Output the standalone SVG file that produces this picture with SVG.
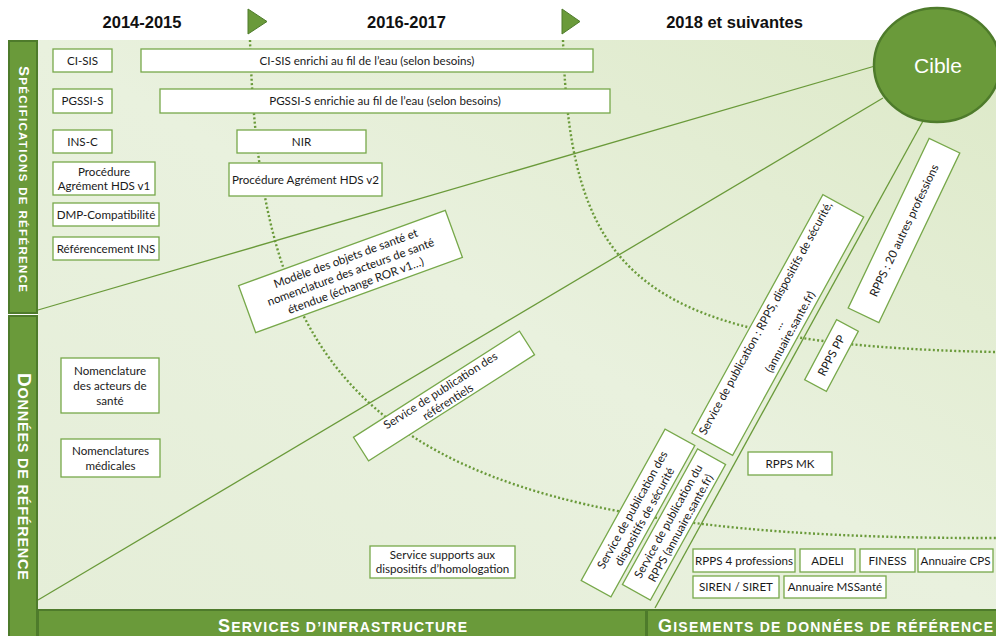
<svg xmlns="http://www.w3.org/2000/svg" width="996" height="636" viewBox="0 0 996 636">
<defs>
<linearGradient id="bg" x1="1" y1="0" x2="0" y2="1">
<stop offset="0" stop-color="#dde9c8"/>
<stop offset="0.5" stop-color="#e9f1de"/>
<stop offset="1" stop-color="#e5eed8"/>
</linearGradient>
<style>
.box{fill:#ffffff;stroke:#77a84a;stroke-width:1.3}
.t{font-family:Lato,"Liberation Sans",sans-serif;font-size:11.6px;fill:#1a1a1a;text-anchor:middle}
.hdr{font-family:"Liberation Sans",Arial,sans-serif;font-size:16.5px;font-weight:bold;fill:#111;text-anchor:middle}
.bar{fill:#6a9a3a;stroke:#4e7b2b;stroke-width:2}
.lbl{font-family:"Liberation Sans",Arial,sans-serif;font-weight:bold;fill:#ffffff;text-anchor:middle}
.ray{fill:none;stroke:#6a9a3a;stroke-width:1.3}
.dot{fill:none;stroke:#6a9a3a;stroke-width:2.4;stroke-dasharray:2 2.3}
.tri{fill:#6a9a3a;stroke:#4e7b2b;stroke-width:1}
</style>
</defs>
<rect x="0" y="0" width="996" height="636" fill="#ffffff"/>
<rect x="38" y="40" width="958" height="570" fill="url(#bg)"/>

<g id="header">
<text class="hdr" x="142" y="28">2014-2015</text>
<text class="hdr" x="406.5" y="28">2016-2017</text>
<text class="hdr" x="734.5" y="28">2018 et suivantes</text>
<polygon class="tri" points="248,9 267,21.5 248,34"/>
<polygon class="tri" points="562,9 580,21.5 562,34"/>
</g>

<g id="connectors">
<path class="dot" d="M250,40 C260,400 380,540 996,538"/>
<path class="dot" d="M563,40 C570,280 640,345 996,352"/>
<line class="ray" x1="38" y1="310" x2="875" y2="66"/>
<line class="ray" x1="38" y1="600" x2="883" y2="98"/>
<line class="ray" x1="923" y1="121" x2="655" y2="608"/>
</g>

<g id="section-specifications">
<rect class="bar" x="9" y="41" width="28" height="272"/>
<text class="lbl" transform="translate(23,179) rotate(90)" x="0" y="4.5" textLength="226" lengthAdjust="spacing"><tspan font-size="15">S</tspan><tspan font-size="11.5">PÉCIFICATIONS DE RÉFÉRENCE</tspan></text>
</g>
<g id="section-donnees">
<rect class="bar" x="9" y="316" width="28" height="321"/>
<text class="lbl" transform="translate(23,476.5) rotate(90)" x="0" y="5.5" textLength="207" lengthAdjust="spacing"><tspan font-size="19">D</tspan><tspan font-size="14.5">ONNÉES DE RÉFÉRENCE</tspan></text>
</g>
<g id="section-services">
<rect class="bar" x="38" y="610" width="608" height="27"/>
<text class="lbl" x="342.5" y="631.5" textLength="249" lengthAdjust="spacing"><tspan font-size="18">S</tspan><tspan font-size="14">ERVICES D’INFRASTRUCTURE</tspan></text>
</g>
<g id="section-gisements">
<rect class="bar" x="647" y="610" width="350" height="27"/>
<text class="lbl" x="825.5" y="631.5" textLength="335" lengthAdjust="spacing"><tspan font-size="18">G</tspan><tspan font-size="14">ISEMENTS DE DONNÉES DE RÉFÉRENCE</tspan></text>
</g>

<g id="n-cisis"><rect class="box" x="53" y="49" width="59" height="23"/><text class="t" x="82.5" y="64.5">CI-SIS</text></g>
<g id="n-cisis-enrichi"><rect class="box" x="141" y="49" width="452" height="23"/><text class="t" x="367" y="64.5">CI-SIS enrichi au fil de l’eau (selon besoins)</text></g>
<g id="n-pgssi"><rect class="box" x="53" y="89" width="59" height="24"/><text class="t" x="82.5" y="105">PGSSI-S</text></g>
<g id="n-pgssi-enrichie"><rect class="box" x="160" y="89" width="450" height="24"/><text class="t" x="385" y="105">PGSSI-S enrichie au fil de l’eau (selon besoins)</text></g>
<g id="n-insc"><rect class="box" x="53" y="130" width="59" height="23"/><text class="t" x="82.5" y="145.5">INS-C</text></g>
<g id="n-nir"><rect class="box" x="237" y="130" width="129" height="23"/><text class="t" x="301.5" y="145.5">NIR</text></g>
<g id="n-hds1"><rect class="box" x="53" y="162" width="102" height="33"/><text class="t" x="104" y="175.5">Procédure</text><text class="t" x="104" y="189.5">Agrément HDS v1</text></g>
<g id="n-hds2"><rect class="box" x="229" y="163" width="153" height="33"/><text class="t" x="305.5" y="183.5">Procédure Agrément HDS v2</text></g>
<g id="n-dmp"><rect class="box" x="53" y="203" width="106" height="23"/><text class="t" x="106" y="218.5">DMP-Compatibilité</text></g>
<g id="n-refins"><rect class="box" x="53" y="237" width="106" height="23"/><text class="t" x="106" y="252.5">Référencement INS</text></g>

<g id="n-modele" transform="translate(350.5,271.5) rotate(-20)">
<rect class="box" x="-110" y="-25" width="220" height="50"/>
<text class="t" x="0" y="-10">Modèle des objets de santé et</text>
<text class="t" x="0" y="4.5">nomenclature des acteurs de santé</text>
<text class="t" x="0" y="19">étendue (échange ROR v1…)</text>
</g>

<g id="n-nomenclature-acteurs"><rect class="box" x="61" y="358" width="98" height="55"/><text class="t" x="110" y="375">Nomenclature</text><text class="t" x="110" y="390">des acteurs de</text><text class="t" x="110" y="404.5">santé</text></g>
<g id="n-nomenclatures-medicales"><rect class="box" x="61" y="439" width="99" height="38"/><text class="t" x="110.5" y="455">Nomenclatures</text><text class="t" x="110.5" y="469.5">médicales</text></g>

<g id="n-pub-referentiels" transform="translate(444,396) rotate(-32.6)">
<rect class="box" x="-98.5" y="-14" width="197" height="28"/>
<text class="t" x="0" y="-2.5">Service de publication des</text>
<text class="t" x="0" y="11">référentiels</text>
</g>

<g id="n-supports"><rect class="box" x="370" y="546" width="145" height="32"/><text class="t" x="442.5" y="559">Service supports aux</text><text class="t" x="442.5" y="573">dispositifs d’homologation</text></g>

<g id="n-pub-rpps" transform="translate(777.75,325) rotate(-61.2)">
<rect class="box" x="-136" y="-23.25" width="272" height="46.5"/>
<text class="t" x="0" y="-10" textLength="264" lengthAdjust="spacingAndGlyphs">Service de publication : RPPS, dispositifs de sécurité,</text>
<text class="t" x="0" y="4">…</text>
<text class="t" x="0" y="18">(annuaire.sante.fr)</text>
</g>

<g id="n-rpps20" transform="translate(904,230.5) rotate(-64.5)">
<rect class="box" x="-94" y="-17" width="188" height="34"/>
<text class="t" x="0" y="4">RPPS : 20 autres professions</text>
</g>

<g id="n-rppspp" transform="translate(831.5,355.5) rotate(-62)">
<rect class="box" x="-34" y="-12.3" width="68" height="24.6"/>
<text class="t" x="0" y="4">RPPS PP</text>
</g>

<g id="n-rppsmk"><rect class="box" x="748" y="452" width="84" height="23"/><text class="t" x="790" y="467.5">RPPS MK</text></g>

<g id="n-pub-dispositifs" transform="translate(638,513) rotate(-61)">
<rect class="box" x="-86.5" y="-17" width="173" height="34"/>
<text class="t" x="0" y="-2.5">Service de publication des</text>
<text class="t" x="0" y="11.5">dispositifs de sécurité</text>
</g>

<g id="n-pub-annuaire" transform="translate(674,524.5) rotate(-61)">
<rect class="box" x="-77.5" y="-16" width="155" height="32"/>
<text class="t" x="0" y="-2.5">Service de publication du</text>
<text class="t" x="0" y="11.5">RPPS (annuaire.sante.fr)</text>
</g>

<g id="n-rpps4"><rect class="box" x="693" y="549" width="102" height="23"/><text class="t" x="744" y="564.5">RPPS 4 professions</text></g>
<g id="n-adeli"><rect class="box" x="800" y="549" width="55" height="23"/><text class="t" x="827.5" y="564.5">ADELI</text></g>
<g id="n-finess"><rect class="box" x="860" y="549" width="55" height="23"/><text class="t" x="887.5" y="564.5">FINESS</text></g>
<g id="n-cps"><rect class="box" x="918" y="549" width="75" height="23"/><text class="t" x="955.5" y="564.5">Annuaire CPS</text></g>
<g id="n-siren"><rect class="box" x="693" y="576" width="86" height="22"/><text class="t" x="736" y="591">SIREN / SIRET</text></g>
<g id="n-mssante"><rect class="box" x="784" y="576" width="102" height="22"/><text class="t" x="835" y="591">Annuaire MSSanté</text></g>

<g id="n-cible">
<ellipse cx="937" cy="65" rx="63" ry="57" fill="#6a9a3a" stroke="#4e7b2b" stroke-width="2.5"/>
<text x="938" y="73" font-family="'Liberation Sans',Arial,sans-serif" font-size="21" fill="#ffffff" text-anchor="middle">Cible</text>
</g>
</svg>
